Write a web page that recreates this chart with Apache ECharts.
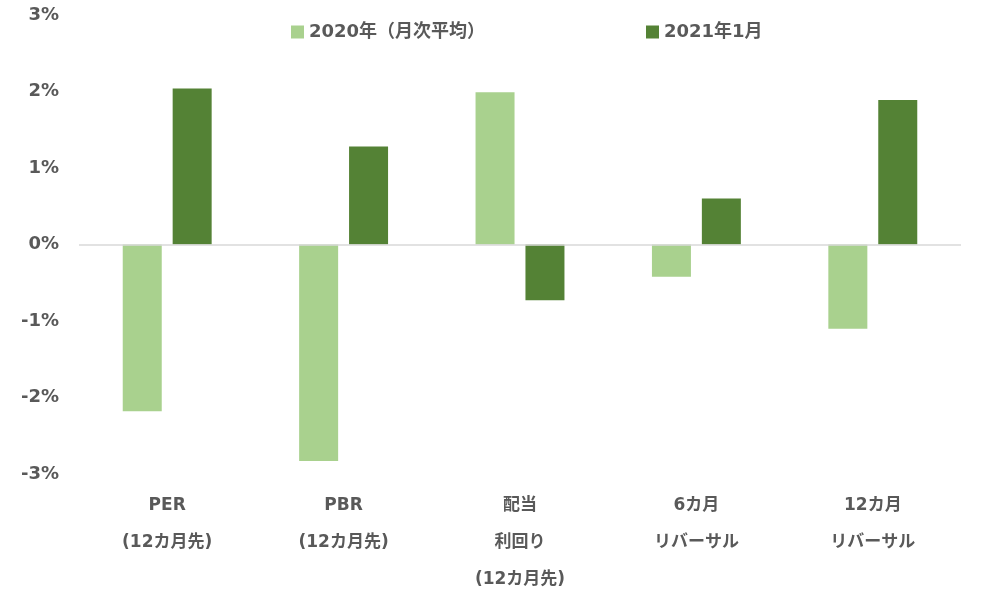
<!DOCTYPE html>
<html>
<head>
<meta charset="utf-8">
<script src="https://cdn.jsdelivr.net/npm/echarts@6/dist/echarts.min.js"></script>
<style>html,body{margin:0;padding:0;background:#fff}#c{width:992px;height:598px}</style>
</head>
<body>
<div id="c"></div>
<script>
const categories = ['PER\n(12カ月先)', 'PBR\n(12カ月先)', '配当\n利回り\n(12カ月先)', '6カ月\nリバーサル', '12カ月\nリバーサル'];
const seriesNames = ['2020年（月次平均）', '2021年1月'];
const values2020 = [-2.18, -2.83, 1.99, -0.42, -1.10];
const values2021 = [2.04, 1.28, -0.73, 0.60, 1.89];
const yTicks = [-3, -2, -1, 0, 1, 2, 3];

const FONT = '"DejaVu Sans", "Noto Sans CJK JP", sans-serif';
const TXT = '#595959';
const chart = echarts.init(document.getElementById('c'));
const legendText = { color: TXT, fontSize: 18, fontWeight: 'bold', fontFamily: FONT };
chart.setOption({
  animation: false,
  legend: [
    { data: [seriesNames[0]], left: 286, top: 18, itemWidth: 13, itemHeight: 13, icon: 'rect', textStyle: legendText },
    { data: [seriesNames[1]], left: 641, top: 18, itemWidth: 13, itemHeight: 13, icon: 'rect', textStyle: legendText }
  ],
  grid: { left: 79, right: 31, top: 15, bottom: 124, containLabel: false },
  xAxis: {
    type: 'category',
    data: categories,
    axisLine: { show: false },
    axisTick: { show: false },
    axisLabel: { color: TXT, fontSize: 17, fontWeight: 'bold', fontFamily: FONT, lineHeight: 37, margin: 13, verticalAlign: 'top', interval: 0 }
  },
  yAxis: {
    type: 'value',
    min: yTicks[0], max: yTicks[yTicks.length - 1], interval: 1,
    axisLine: { show: false },
    axisTick: { show: false },
    splitLine: { show: false },
    axisLabel: { color: TXT, fontSize: 18, fontWeight: 'bold', fontFamily: FONT, margin: 20, formatter: v => v + '%' }
  },
  series: [
    {
      name: seriesNames[0], type: 'bar', data: values2020, barWidth: 39, barGap: '28%',
      itemStyle: { color: '#A9D18E' },
      markLine: {
        silent: true, symbol: 'none', label: { show: false },
        lineStyle: { color: '#D9D9D9', width: 1.5, type: 'solid' },
        data: [{ yAxis: 0 }]
      }
    },
    {
      name: seriesNames[1], type: 'bar', data: values2021, barWidth: 39,
      itemStyle: { color: '#548235' }
    }
  ]
});
</script>
</body>
</html>
